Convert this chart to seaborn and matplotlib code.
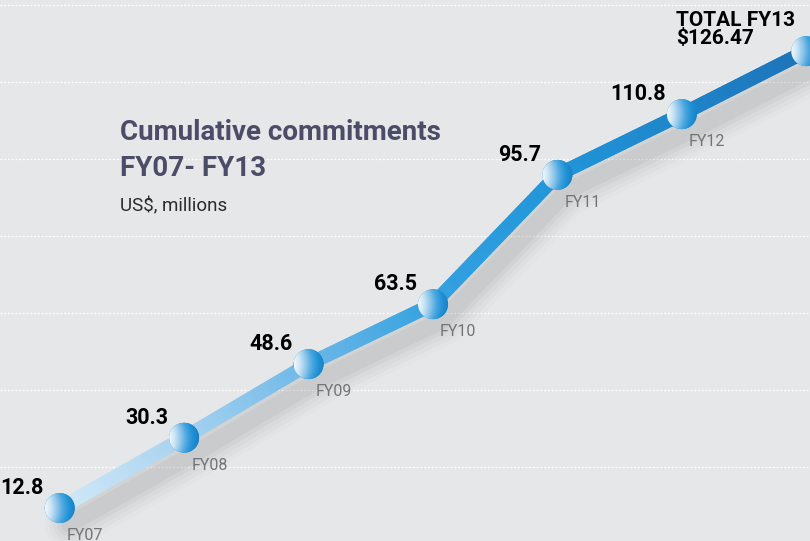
import numpy as np
import pandas as pd
import matplotlib.pyplot as plt
import matplotlib.transforms as mtransforms
from matplotlib.collections import LineCollection
from matplotlib.colors import LinearSegmentedColormap
from matplotlib.patches import Ellipse
import seaborn as sns

# chart data
years = ["FY07", "FY08", "FY09", "FY10", "FY11", "FY12", "FY13"]
values = [12.8, 30.3, 48.6, 63.5, 95.7, 110.8, 126.47]
value_labels = ["12.8", "30.3", "48.6", "63.5", "95.7", "110.8", "TOTAL FY13\n$126.47"]

df = pd.DataFrame({"year": years, "value": values})
df["idx"] = range(len(df))

sns.set_theme(style="white")
plt.rcParams["font.family"] = ["Roboto", "DejaVu Sans"]

BG = "#e6e7e9"
W, H = 810, 541
fig = plt.figure(figsize=(W / 100, H / 100), dpi=100, facecolor=BG)
ax = fig.add_axes([0, 0, 1, 1], facecolor=BG)
XLIM = (-0.48, 6.03)
YLIM = (4.6, 139.2)
ax.set_xlim(*XLIM)
ax.set_ylim(*YLIM)

# faint dotted guide lines
for gy in np.arange(23.0, 139.2, 19.15):
    ax.axhline(gy, color="white", lw=0.9, ls=(0, (1.5, 1.5)), zorder=0)

# soft shadow under the line
for w, a in [(36, 0.025), (30, 0.035), (24, 0.045), (18, 0.06), (12, 0.08)]:
    shift = mtransforms.ScaledTranslation(10 / 100, -16 / 100, fig.dpi_scale_trans)
    sns.lineplot(data=df, x="idx", y="value", ax=ax, color="#6d6e70", lw=w,
                 alpha=a, solid_capstyle="round", transform=ax.transData + shift,
                 zorder=1, legend=False)

# gradient line (light -> dark blue)
cmap = LinearSegmentedColormap.from_list(
    "blues", ["#d3e9f8", "#a9d3f0", "#6fb9e8", "#36a2e0", "#2196da", "#1f86cb", "#1d74b9"])
xs, ys = [], []
for i in range(len(values) - 1):
    t = np.linspace(0, 1, 40, endpoint=False)
    xs.extend(i + t)
    ys.extend(values[i] + (values[i + 1] - values[i]) * t)
xs.append(len(values) - 1)
ys.append(values[-1])
pts = np.column_stack([xs, ys]).reshape(-1, 1, 2)
segs = np.concatenate([pts[:-1], pts[1:]], axis=1)
lc = LineCollection(segs, cmap=cmap, linewidths=10, capstyle="round", zorder=2)
lc.set_array(np.linspace(0, 1, len(segs)))
ax.add_collection(lc)

# spheres: base marker + horizontal gradient image clipped to a circle
r = 15
sns.scatterplot(data=df, x="idx", y="value", ax=ax, s=(2 * r * 0.72) ** 2,
                color="#1e88cf", edgecolor="none", linewidth=0, zorder=3, legend=False)
sphere_cmap = LinearSegmentedColormap.from_list(
    "sphere", ["#f2f8fd", "#c9e3f5", "#8cc5ea", "#4aa6df", "#1f92d6", "#1a7fc4"])
gx = np.linspace(0, 1, 64)
gy = np.linspace(-1, 1, 64)
GX, GY = np.meshgrid(gx, gy)
grad = np.clip(GX + 0.12 * GY ** 2, 0, 1)
dxp = (XLIM[1] - XLIM[0]) / W
dyp = (YLIM[1] - YLIM[0]) / H
for i, v in zip(df["idx"], df["value"]):
    im = ax.imshow(grad, cmap=sphere_cmap, vmin=0, vmax=1, origin="lower",
                   extent=(i - r * dxp, i + r * dxp, v - r * dyp, v + r * dyp),
                   aspect="auto", zorder=4, interpolation="bilinear")
    clip = Ellipse((i, v), 2 * r * dxp, 2 * r * dyp, transform=ax.transData)
    im.set_clip_path(clip)
ax.set_xlim(*XLIM)
ax.set_ylim(*YLIM)

# value labels and year labels
for i, (v, lab) in enumerate(zip(values, value_labels)):
    if i == len(values) - 1:
        ax.annotate(lab, (i, v), xytext=(-130, 3), textcoords="offset pixels",
                    ha="left", va="bottom", fontsize=15, fontweight="bold",
                    color="black", linespacing=0.95, zorder=5)
        continue
    ax.annotate(lab, (i, v), xytext=(-16, 9), textcoords="offset pixels",
                ha="right", va="bottom", fontsize=15.5, fontweight="bold",
                color="black", zorder=5)
    ax.annotate(years[i], (i, v), xytext=(7, -20), textcoords="offset pixels",
                ha="left", va="top", fontsize=11.5, color="#737476", zorder=5)

# title block
fig.text(120 / W, 1 - 119 / H, "Cumulative commitments\nFY07- FY13", ha="left",
         va="top", fontsize=20, fontweight="bold", color="#4b4d68", linespacing=1.45)
fig.text(120 / W, 1 - 197 / H, "US$, millions", ha="left", va="top",
         fontsize=13.5, color="#2b2b2b")

ax.set_xticks([])
ax.set_yticks([])
ax.set_xlabel("")
ax.set_ylabel("")
sns.despine(ax=ax, left=True, bottom=True)

fig.savefig("out.png", dpi=100, facecolor=BG)
plt.close(fig)
